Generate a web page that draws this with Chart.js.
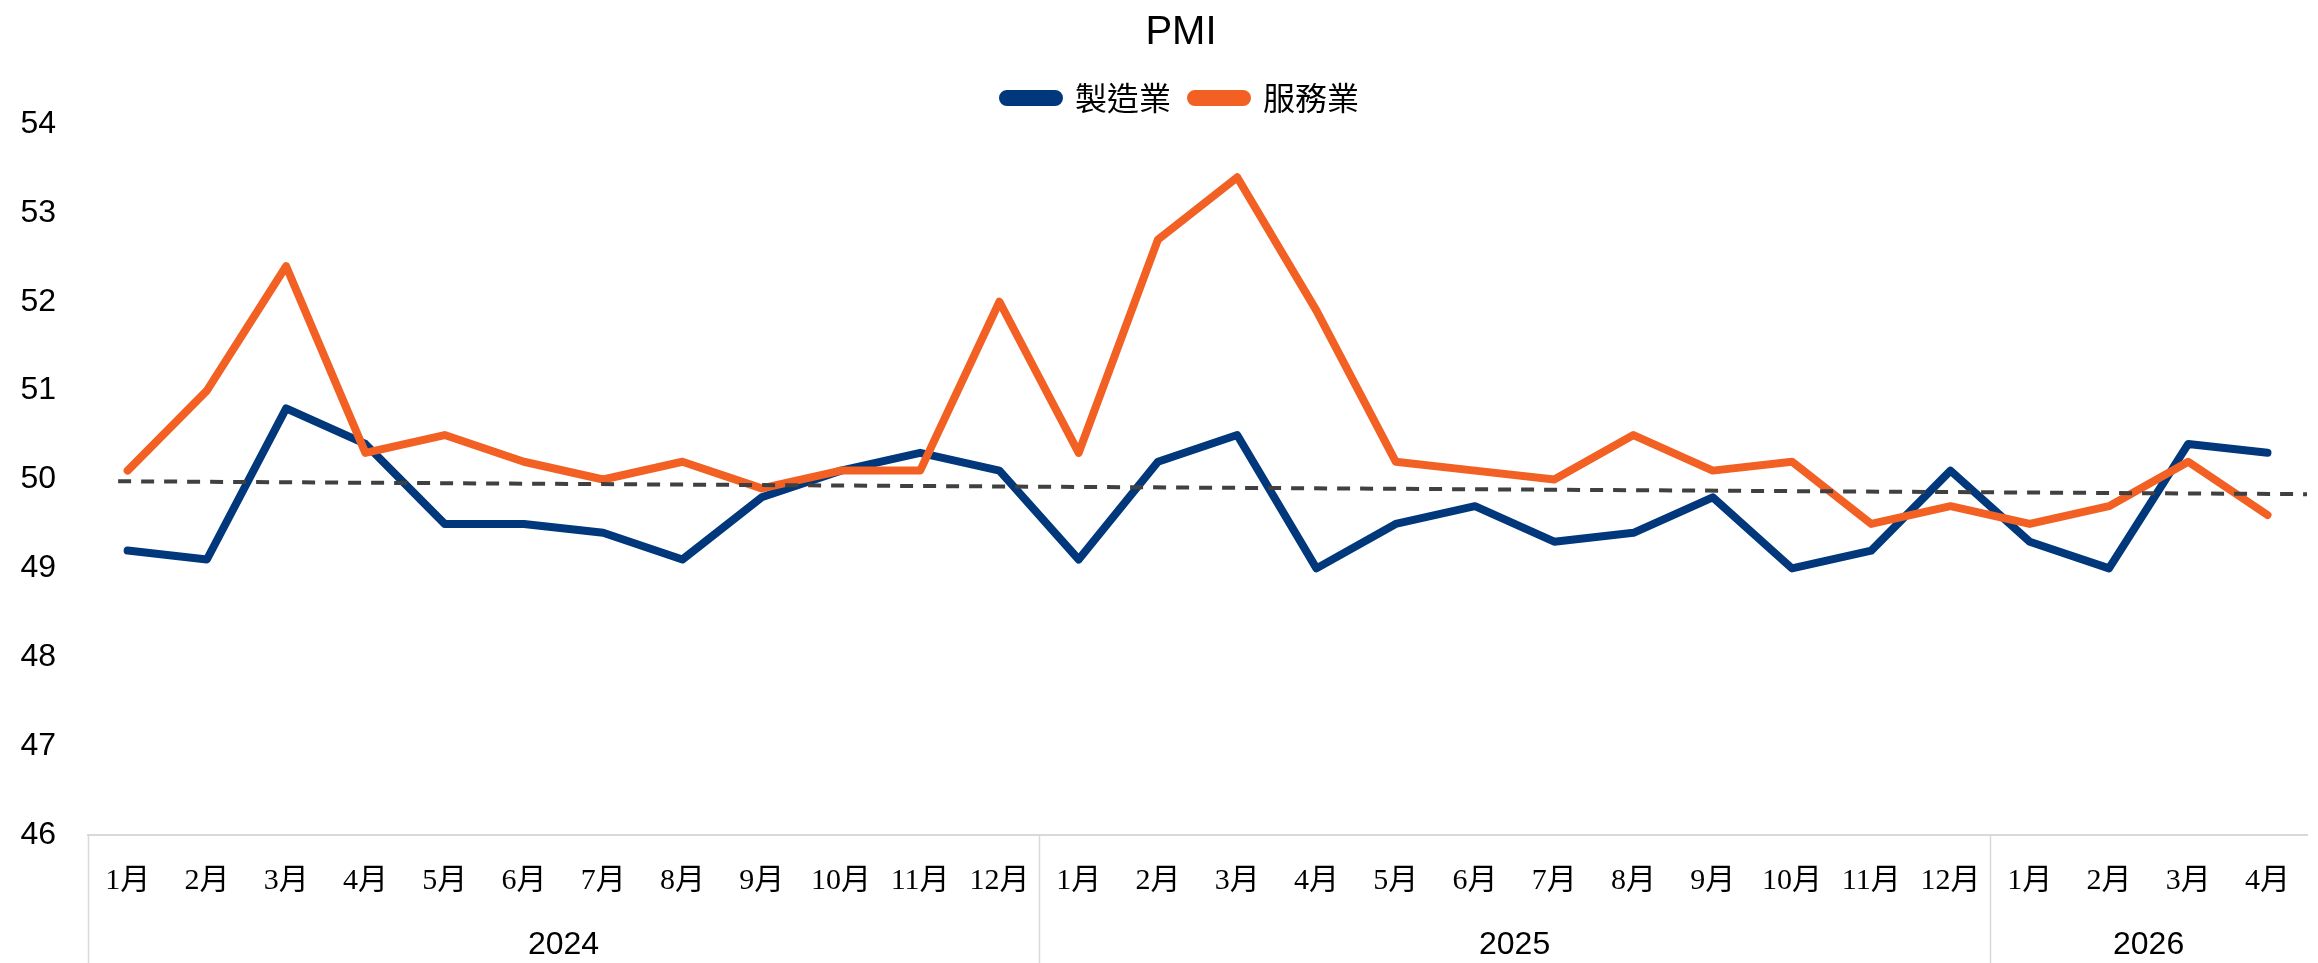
<!DOCTYPE html>
<html>
<head>
<meta charset="utf-8">
<script src="https://cdn.jsdelivr.net/npm/chart.js@4.4.1/dist/chart.umd.min.js"></script>
<style>
  html, body { margin: 0; padding: 0; background: #ffffff; }
  #wrap { width: 2318px; height: 963px; }
</style>
</head>
<body>
<div id="wrap"><canvas id="c" width="2318" height="963"></canvas></div>
<script>
// ---- data ----
const months = ['1月','2月','3月','4月','5月','6月','7月','8月','9月','10月','11月','12月',
                '1月','2月','3月','4月','5月','6月','7月','8月','9月','10月','11月','12月',
                '1月','2月','3月','4月'];
const years = ['2024', '2025', '2026'];
const yearCenters = [5.5, 17.5, 25.5];
const yearBounds = [-0.5, 11.5, 23.5];
const manufacturing = [49.2, 49.1, 50.8, 50.4, 49.5, 49.5, 49.4, 49.1, 49.8, 50.1, 50.3, 50.1,
                       49.1, 50.2, 50.5, 49.0, 49.5, 49.7, 49.3, 49.4, 49.8, 49.0, 49.2, 50.1,
                       49.3, 49.0, 50.4, 50.3];
const services = [50.1, 51.0, 52.4, 50.3, 50.5, 50.2, 50.0, 50.2, 49.9, 50.1, 50.1, 52.0,
                  50.3, 52.7, 53.4, 51.9, 50.2, 50.1, 50.0, 50.5, 50.1, 50.2, 49.5, 49.7,
                  49.5, 49.7, 50.2, 49.6];
const trendX = [-0.12, 27.5];
const trendY = [49.98, 49.835];
const yTicks = [46, 47, 48, 49, 50, 51, 52, 53, 54];
const seriesNames = ['製造業', '服務業'];
const title = 'PMI';

const BLUE = '#00387B';
const ORANGE = '#F26123';
const SANS = "'Liberation Sans', Arial, 'Noto Sans CJK TC', sans-serif";
const CJK = "'Noto Sans CJK TC', 'Liberation Sans', sans-serif";
const SERIF = "'Liberation Serif', 'Noto Sans CJK TC', serif";

const separatorPlugin = {
  id: 'yearSeparators',
  afterDraw(chart) {
    const xt = chart.scales.xt;
    const ctx = chart.ctx;
    ctx.save();
    ctx.strokeStyle = '#D9D9D9';
    ctx.lineWidth = 1.5;
    yearBounds.forEach(b => {
      const px = Math.round(xt.getPixelForValue(b)) + 0.5;
      ctx.beginPath();
      ctx.moveTo(px, chart.chartArea.bottom);
      ctx.lineTo(px, chart.height);
      ctx.stroke();
    });
    ctx.restore();
  }
};

// shift title and legend slightly right, as in the reference layout
const centerShift = {
  id: 'centerShift',
  afterLayout(chart) {
    [chart.titleBlock, chart.legend].forEach(b => {
      if (b) { b.left += 22; b.right += 22; }
    });
  }
};

new Chart(document.getElementById('c'), {
  type: 'line',
  data: {
    labels: months,
    datasets: [
      {
        label: seriesNames[0],
        data: manufacturing,
        borderColor: BLUE,
        backgroundColor: BLUE,
        borderWidth: 8,
        pointRadius: 0,
        tension: 0,
        borderCapStyle: 'round',
        borderJoinStyle: 'round',
        order: 3,
        xAxisID: 'x',
        yAxisID: 'y'
      },
      {
        label: seriesNames[1],
        data: services,
        borderColor: ORANGE,
        backgroundColor: ORANGE,
        borderWidth: 8,
        pointRadius: 0,
        tension: 0,
        borderCapStyle: 'round',
        borderJoinStyle: 'round',
        order: 2,
        xAxisID: 'x',
        yAxisID: 'y'
      },
      {
        label: 'trend',
        data: trendX.map((x, i) => ({ x: x, y: trendY[i] })),
        borderColor: '#404040',
        borderWidth: 4,
        borderDash: [13, 10],
        pointRadius: 0,
        tension: 0,
        order: 1,
        xAxisID: 'xt',
        yAxisID: 'y'
      }
    ]
  },
  options: {
    responsive: false,
    animation: false,
    devicePixelRatio: 1,
    layout: { padding: { left: 0, right: 0, top: 0, bottom: 0 } },
    plugins: {
      title: {
        display: true,
        text: title,
        color: '#000000',
        font: { family: SANS, size: 40, weight: 'normal', lineHeight: 1.2 },
        padding: { top: 9, bottom: 5 }
      },
      legend: {
        display: true,
        position: 'top',
        labels: {
          color: '#000000',
          font: { family: CJK, size: 32 },
          boxWidth: 56,
          boxHeight: 8,
          useBorderRadius: true,
          borderRadius: 4,
          padding: 20,
          filter: (item) => item.datasetIndex < 2,
          sort: (a, b) => a.datasetIndex - b.datasetIndex
        }
      },
      tooltip: { enabled: false }
    },
    scales: {
      x: {
        type: 'category',
        position: 'bottom',
        offset: true,
        weight: 0,
        grid: { display: false, drawOnChartArea: false, drawTicks: false },
        border: { display: true, color: '#D9D9D9', width: 2 },
        ticks: {
          color: '#000000',
          font: { family: SERIF, size: 30 },
          padding: 28,
          maxRotation: 0,
          autoSkip: false
        }
      },
      xt: {
        type: 'linear',
        position: 'bottom',
        weight: 1,
        min: -0.5,
        max: 27.5,
        offset: false,
        grid: { display: false, drawTicks: false },
        border: { display: false },
        afterBuildTicks: (scale) => { scale.ticks = yearCenters.map(v => ({ value: v })); },
        ticks: {
          color: '#000000',
          font: { family: SANS, size: 32 },
          padding: -1.2,
          maxRotation: 0,
          autoSkip: false,
          callback: (value) => {
            const i = yearCenters.indexOf(value);
            return i >= 0 ? years[i] : '';
          }
        }
      },
      y: {
        type: 'linear',
        position: 'left',
        min: 46,
        max: 54,
        afterBuildTicks: (scale) => { scale.ticks = yTicks.map(v => ({ value: v })); },
        afterFit: (scale) => { scale.width = 88; },
        grid: { display: false, drawTicks: false },
        border: { display: false },
        ticks: {
          color: '#000000',
          font: { family: SANS, size: 32 },
          padding: 32,
          callback: (v) => String(v)
        }
      }
    }
  },
  plugins: [separatorPlugin, centerShift]
});
</script>
</body>
</html>
